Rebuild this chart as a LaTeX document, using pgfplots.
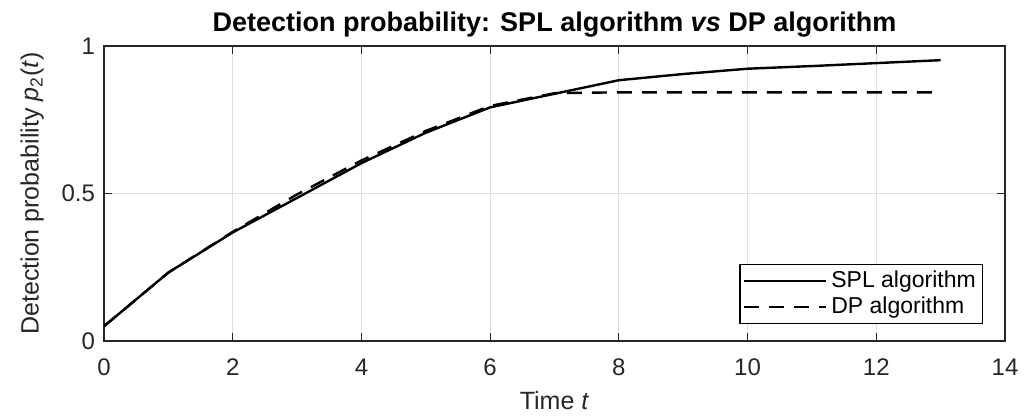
\documentclass[border=0pt]{standalone}
\usepackage{fontspec}
\setmainfont{Liberation Sans}
\usepackage{pgfplots}
\usepackage{pgfplotstable}
\pgfplotsset{compat=1.18}

% p_2(t) for both schedulers, one value per time step
\pgfplotstableread{
t   p
0   0.050
1   0.232
2   0.368
3   0.485
4   0.603
5   0.706
6   0.792
7   0.838
8   0.884
9   0.905
10  0.923
11  0.932
12  0.942
13  0.952
}\splTable
\pgfplotstableread{
t   p
0   0.050
1   0.232
2   0.370
3   0.497
4   0.612
5   0.712
6   0.797
7   0.840
8   0.843
9   0.843
10  0.843
11  0.843
12  0.843
13  0.843
}\dpTable

\definecolor{axgray}{gray}{0.15}
\definecolor{gridgray}{gray}{0.87}

\begin{document}
\begin{tikzpicture}
\path (-52pt,-36.5pt) rectangle (464pt,170.5pt);
\begin{axis}[
  at={(0,0)}, anchor=south west,
  scale only axis,
  width=450.5pt, height=147.5pt,
  xmin=0, xmax=14, ymin=0, ymax=1,
  xtick={0,2,...,14},
  ytick={0,0.5,1},
  yticklabels={0,0.5,1},
  tick align=inside,
  major tick length=4pt,
  axis line style={axgray, line width=0.6pt},
  every tick/.style={axgray, line width=0.6pt},
  grid=major,
  major grid style={gridgray, line width=0.5pt},
  ticklabel style={font=\fontsize{12}{14}\selectfont, text=axgray},
  /pgf/number format/assume math mode=true,
  xticklabel style={yshift=-5.5pt},
  yticklabel style={xshift=-1pt},
  xlabel={Time \textit{t}},
  ylabel={Detection probability \textit{p}\textsubscript{2}(\textit{t})},
  label style={font=\fontsize{12.5}{14}\selectfont, text=axgray},
  xlabel style={yshift=-1pt},
  ylabel style={yshift=2pt},
  title={\textbf{Detection probability: SPL algorithm \textit{vs} DP algorithm}},
  title style={font=\fontsize{13.5}{15}\selectfont, yshift=-5pt},
  legend style={at={(0.976,0.057)}, anchor=south east,
    draw=black, line width=0.6pt, font=\fontsize{11.5}{13}\selectfont,
    inner sep=1.5pt, row sep=-1pt},
  legend cell align=left,
  legend image code/.code={\draw[#1] (0pt,0pt) -- (41pt,0pt);},
]
\addplot[black, line width=1.2pt] table[x=t, y=p] {\splTable};
\addlegendentry{SPL algorithm}
\addplot[black, line width=1.2pt, dash pattern=on 7.5pt off 5pt] table[x=t, y=p] {\dpTable};
\addlegendentry{DP algorithm}
\end{axis}
\end{tikzpicture}
\end{document}
